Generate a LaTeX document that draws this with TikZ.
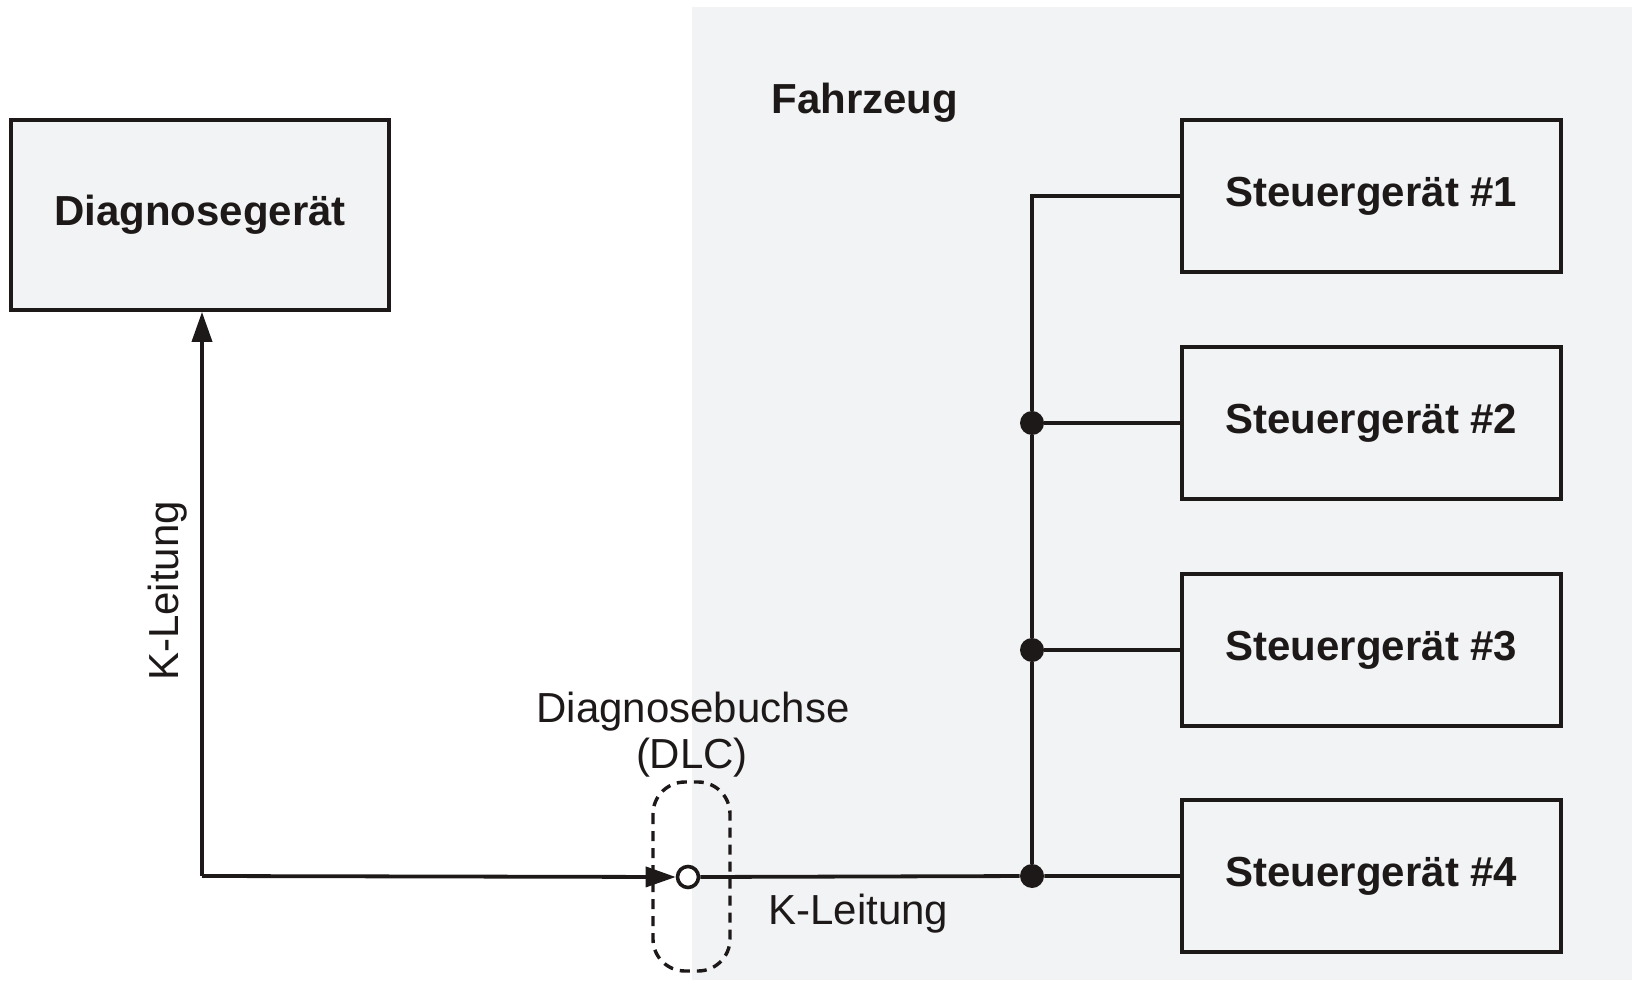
\documentclass[tikz,border=0pt]{standalone}
\usepackage{fontspec}
\setmainfont{Liberation Sans}
\usetikzlibrary{arrows.meta}
\definecolor{bgshade}{RGB}{242,243,245}
\definecolor{ink}{RGB}{30,25,25}
\begin{document}
\begin{tikzpicture}[x=0.5pt,y=-0.5pt,
  every node/.style={text=ink,font=\fontsize{21}{25}\selectfont},
  unitbox/.style={draw=ink,line width=1.9pt,fill=bgshade,rectangle,inner sep=0pt,font=\bfseries\fontsize{21}{25}\selectfont},
  tester/.style={unitbox,minimum width=189pt,minimum height=95pt},
  ecu/.style={unitbox,minimum width=189.5pt,minimum height=76pt},
  wire/.style={draw=ink,line width=1.9pt},
  junction/.style={circle,fill=ink,inner sep=0pt,minimum size=12pt},
  tip/.style={-{Triangle[length=15pt,width=10pt]}}
]
\useasboundingbox (0,0) rectangle (1632,983);
\fill[bgshade] (692,7) rectangle (1632,980);

\node[tester] (diag) at (200,215) {Diagnosegerät};
\node[ecu] (e1) at (1371.5,196) {Steuergerät \#1};
\node[ecu] (e2) at (1371.5,423) {Steuergerät \#2};
\node[ecu] (e3) at (1371.5,650) {Steuergerät \#3};
\node[ecu] (e4) at (1371.5,876) {Steuergerät \#4};

\node[font=\bfseries\fontsize{21}{25}\selectfont,anchor=base west,inner sep=0pt] (fz) at (771,114) {Fahrzeug};

\node[junction] (j2) at (1032,423) {};
\node[junction] (j3) at (1032,650) {};
\node[junction] (j4) at (1032,876) {};
\coordinate (c1) at (1032,196);
\coordinate (bend) at (202,876);

% DLC
\draw[draw=ink,line width=1.7pt,dash pattern=on 5pt off 3.5pt,rounded corners=16pt] (653,782) rectangle (730,971);
\node[circle,draw=ink,line width=1.8pt,fill=white,inner sep=0pt,minimum size=10.5pt] (dlc) at (688,877) {};
\node[anchor=base,inner sep=0pt] (lbl1) at (693,722) {Diagnosebuchse};
\node[anchor=base,inner sep=0pt] (lbl2) at (692,768) {(DLC)};

\draw[wire,tip] (bend) -- (dlc.west);
\draw[wire,tip] (bend) -- (diag.south -| bend);
\draw[wire] (dlc.east) -- (j4) -- (e4.west);
\draw[wire] (j4) -- (j3) -- (j2) -- (c1) -- (e1.west);
\draw[wire] (j3) -- (e3.west);
\draw[wire] (j2) -- (e2.west);

\node[anchor=base west,inner sep=0pt] (kl2) at (768,924) {K-Leitung};
\node[rotate=90,anchor=base,inner sep=0pt] (kl1) at (178,591) {K-Leitung};
\end{tikzpicture}
\end{document}
